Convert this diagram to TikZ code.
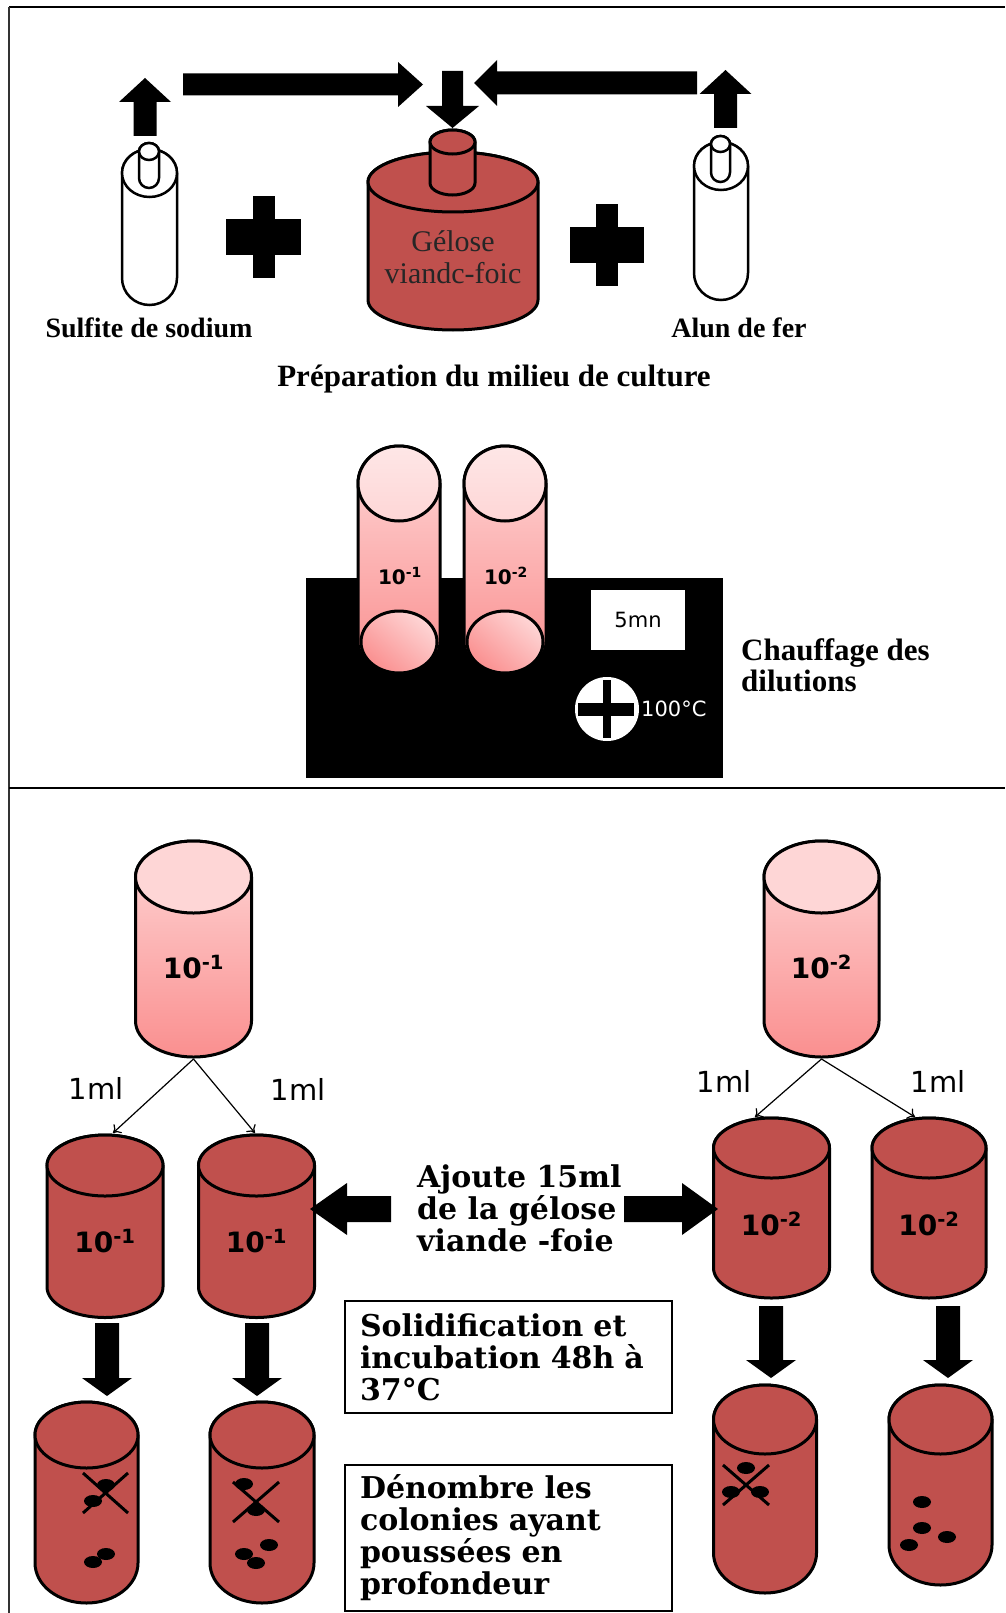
\documentclass[tikz,border=0pt]{standalone}
\usepackage{fontspec}
\setmainfont{Liberation Serif}
\newfontfamily\widefont{DejaVu Serif}
\newfontfamily\labelfont{DejaVu Sans}
\usetikzlibrary{arrows.meta}
\definecolor{agar}{RGB}{192,80,77}
\definecolor{pinklt}{RGB}{254,214,214}
\definecolor{pinkdk}{RGB}{250,143,143}
\tikzset{
  glass/.style={fill=white,draw=black,line width=2.5pt},
  agarbody/.style={fill=agar,draw=black,line width=3pt},
  dilution/.style={top color=pinklt,bottom color=pinkdk,draw=black,line width=3pt},
  diltop/.style={fill=pinklt,draw=black,line width=3pt},
  transfer/.style={-{To[length=7pt,width=12pt]},line width=1.2pt},
  tag/.style={font=\labelfont\bfseries\fontsize{28}{32}\selectfont,inner sep=0pt},
  smalltag/.style={font=\labelfont\bfseries\fontsize{20}{24}\selectfont,inner sep=0pt},
  vol/.style={font=\labelfont\fontsize{29}{32}\selectfont,inner sep=0pt},
  caption/.style={font=\bfseries\fontsize{28}{32}\selectfont,inner sep=0pt,align=left},
  widecap/.style={font=\widefont\bfseries\fontsize{30}{32}\selectfont,inner sep=0pt,align=left},
  stepnote/.style={draw,line width=2pt,font=\widefont\bfseries\fontsize{30}{32}\selectfont,
    align=left,anchor=north west,text width=297pt,inner xsep=15pt,inner ysep=0pt},
}
% flat cylinder: body style, top style, centre x, top y, bottom y, x radius, y radius
\newcommand{\cylinder}[7]{%
  \path[#1] ({#3-#6},#4) -- ({#3-#6},#5)
    arc[start angle=180,end angle=0,x radius=#6,y radius=#7]
    -- ({#3+#6},#4)
    arc[start angle=0,end angle=-180,x radius=#6,y radius=#7] -- cycle;
  \path[#2] (#3,#4) ellipse[x radius=#6,y radius=#7];}
% tube with a round bottom: same, plus the radius of the bottom
\newcommand{\testtube}[8]{%
  \path[#1] ({#3-#6},#4) -- ({#3-#6},{#5-#8})
    arc[start angle=180,end angle=0,x radius=#6,y radius=#8]
    -- ({#3+#6},#4)
    arc[start angle=0,end angle=-180,x radius=#6,y radius=#7] -- cycle;
  \path[#2] (#3,#4) ellipse[x radius=#6,y radius=#7];}
% block arrow: tail, direction, length, shaft width, head width, head length
\newcommand{\fatarrow}[6]{%
  \fill[shift={(#1)},rotate=#2] (0,{-#4/2}) -- ({#3-#6},{-#4/2}) -- ({#3-#6},{-#5/2})
    -- (#3,0) -- ({#3-#6},{#5/2}) -- ({#3-#6},{#4/2}) -- (0,{#4/2}) -- cycle;}

\begin{document}
\begin{tikzpicture}[x=1pt,y=-1pt]
\useasboundingbox (0,0) rectangle (1005,1613);
\fill[white] (0,0) rectangle (1005,1613);
\draw[line width=2pt] (9,7) -- (1005,7);
\draw[line width=1.6pt,black!80] (9,7) -- (9,1613);
\draw[line width=2.5pt] (9,788) -- (1005,788);

% culture medium
\testtube{glass}{glass}{149.5}{173}{305}{27.5}{24}{27}
\testtube{glass}{glass}{149}{151.5}{188}{10}{8.5}{10}
\testtube{glass}{glass}{721}{166}{300}{27}{24}{27}
\testtube{glass}{glass}{720.5}{144}{182}{9.5}{8}{9.5}
\cylinder{agarbody}{agarbody}{453}{182}{300}{85}{30}
\cylinder{agarbody}{agarbody}{452.5}{142}{183}{22.5}{12}
\node[font=\fontsize{30}{32}\selectfont,align=center,inner sep=0pt,text=black!85] (agar) at (453,257) {Gélose\\viandc-foic};
\fatarrow{145,136}{90}{58}{23}{52}{24}
\fatarrow{183,84.5}{0}{240}{22}{45}{25}
\fatarrow{452.5,71}{270}{57}{21}{53}{22}
\fatarrow{697,83}{180}{223}{23}{46}{23}
\fatarrow{725.5,128}{90}{58}{23}{52}{24}
\fill (253,196) rectangle (275,278); \fill (226,219) rectangle (301,255);
\fill (596,204) rectangle (618,286); \fill (570,227) rectangle (644,263);
\node[caption] (sulfite) at (149,328) {Sulfite de sodium};
\node[caption] (alum) at (739,328) {Alun de fer};
\node[caption,font=\bfseries\fontsize{31}{34}\selectfont] (prep) at (494,379) {Préparation du milieu de culture};

% heating
\fill (306,578) rectangle (723,778);
\foreach \cx/\d in {399/1,505/2}{
  \path[dilution] ({\cx-41},483.5) -- ({\cx-41},642)
    arc[start angle=180,end angle=0,x radius=41,y radius=31] -- ({\cx+41},483.5)
    arc[start angle=0,end angle=-180,x radius=41,y radius=37.5] -- cycle;
  \path[top color=pinklt!60!white,bottom color=pinklt,draw=black,line width=3pt]
    (\cx,483.5) ellipse[x radius=41,y radius=37.5];
  \path[top color=pinklt,bottom color=pinkdk,shading angle=-40,draw=black,line width=3pt]
    (\cx,642) ellipse[x radius=38,y radius=31];
  \node[smalltag] (heat\d) at (\cx+1,576) {10\textsuperscript{-\d}};
}
\node[fill=white,minimum width=94pt,minimum height=60pt,inner sep=0pt,
  font=\labelfont\fontsize{21}{24}\selectfont] (timer) at (638,620) {5mn};
\node[circle,fill=white,minimum size=64pt,inner sep=0pt] (knob) at (607,709) {};
\fill (578,703) rectangle (634,716); \fill (603,680) rectangle (611,738);
\node[anchor=west,text=white,inner sep=0pt,font=\labelfont\fontsize{21}{24}\selectfont] (temp) at (641,709) {100°C};
\node[caption,anchor=west,font=\bfseries\fontsize{31}{31}\selectfont] (heating) at (741,665) {Chauffage des\\dilutions};

% dilutions and plating
\cylinder{dilution}{diltop}{193.5}{877}{1021}{58}{36}
\cylinder{dilution}{diltop}{821.5}{877}{1021}{57.5}{36}
\node[tag] (dilA) at (193.5,967) {10\textsuperscript{-1}};
\node[tag] (dilB) at (821.5,967) {10\textsuperscript{-2}};
\coordinate (dilAout) at (193.5,1059);
\coordinate (dilBout) at (821.5,1059);
\cylinder{agarbody}{agarbody}{105}{1165.5}{1287}{58}{30.5}
\cylinder{agarbody}{agarbody}{256.5}{1165.5}{1287}{58}{30.5}
\cylinder{agarbody}{agarbody}{771.5}{1148}{1268}{58}{30}
\cylinder{agarbody}{agarbody}{929}{1148}{1268}{57}{30}
\node[tag] (plateA1) at (105,1241) {10\textsuperscript{-1}};
\node[tag] (plateA2) at (256.5,1241) {10\textsuperscript{-1}};
\node[tag] (plateB1) at (771.5,1224) {10\textsuperscript{-2}};
\node[tag] (plateB2) at (929,1224) {10\textsuperscript{-2}};
\coordinate (plateA1in) at (113,1133);
\coordinate (plateA2in) at (255,1133);
\coordinate (plateB1in) at (755,1117);
\coordinate (plateB2in) at (915,1117);
\draw[transfer] (dilAout) -- (plateA1in);
\draw[transfer] (dilAout) -- (plateA2in);
\draw[transfer] (dilBout) -- (plateB1in);
\draw[transfer] (dilBout) -- (plateB2in);
\node[vol] (volA1) at (96,1088) {1ml};
\node[vol] (volA2) at (298,1089) {1ml};
\node[vol] (volB1) at (724,1081) {1ml};
\node[vol] (volB2) at (938,1081) {1ml};
\node[widecap,anchor=west] (pour) at (417,1208) {Ajoute 15ml\\de la gélose\\viande -foie};
\fatarrow{391,1209}{180}{81}{26}{52}{37}
\fatarrow{624,1209}{0}{94}{26}{52}{36}

% incubation and counting
\fatarrow{107,1323}{270}{73}{24}{50}{18}
\fatarrow{257,1323}{270}{73}{24}{50}{18}
\fatarrow{771,1306}{270}{72}{24}{50}{18}
\fatarrow{948,1306}{270}{72}{24}{50}{18}
\testtube{agarbody}{agarbody}{86.5}{1435}{1603}{51.5}{33}{40}
\testtube{agarbody}{agarbody}{262}{1435}{1603}{52}{33}{40}
\testtube{agarbody}{agarbody}{765}{1419.5}{1593}{51.5}{34.5}{40}
\testtube{agarbody}{agarbody}{940.5}{1419.5}{1585}{51.5}{34.5}{40}
\foreach \x/\y in {106/1485,93/1501,106/1554,93/1562,244/1484,256/1510,269/1545,244/1554,256/1563,
  746/1468,731/1492,760/1492,922/1502,922/1528,947/1537,909/1545}{
  \fill (\x,\y) ellipse[x radius=9,y radius=6];
}
\draw[line width=3pt] (83,1473) -- (128,1513) (128,1473) -- (83,1513);
\draw[line width=3pt] (233,1482) -- (279,1522) (279,1482) -- (233,1522);
\draw[line width=3pt] (723,1465) -- (769,1505) (769,1465) -- (723,1505);
\node[stepnote,minimum height=112pt] (incub) at (344,1300) {Solidification et\\incubation 48h à\\37°C};
\node[stepnote,minimum height=146pt] (count) at (344,1464) {Dénombre les\\colonies ayant\\poussées en\\profondeur};
\end{tikzpicture}
\end{document}
